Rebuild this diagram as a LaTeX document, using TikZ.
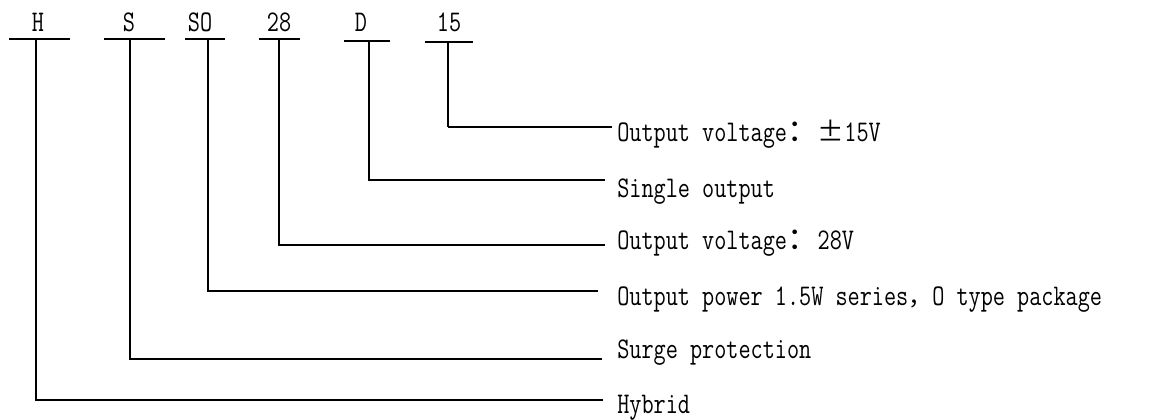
\documentclass[tikz,border=0pt]{standalone}
\usepackage{fontspec}
\setmonofont{Latin Modern Mono}[FakeStretch=0.785]
\newfontfamily\cjk{Noto Sans CJK SC}
\tikzset{
  code/.style={anchor=base, inner sep=0pt, font=\ttfamily\fontsize{22.5pt}{26pt}\selectfont},
  desc/.style={anchor=base west, inner sep=0pt, font=\ttfamily\fontsize{22.5pt}{26pt}\selectfont},
  thinline/.style={line width=1.1pt},
  thickline/.style={line width=2.2pt}
}
\newcommand{\wide}[2]{{\cjk\fontsize{#1}{20pt}\selectfont #2}}
\begin{document}
\begin{tikzpicture}[x=0.75pt, y=-0.75pt]
        \useasboundingbox (0,0) rectangle (1167,419);
        % code letters
        \node[code] (codeH) at (38,31) {H};
        \node[code] (codeS) at (129,31) {S};
        \node[code] (codeSO) at (200,31) {SO};
        \node[code] (code28) at (279,31) {28};
        \node[code] (codeD) at (361,31) {D};
        \node[code] (code15) at (449,31) {15};
        % meanings
        \node[desc] (desc15) at (617,141) {Output voltage\wide{23pt}{：}\wide{20pt}{±}15V};
        \node[desc] (descD) at (617,197) {Single output};
        \node[desc] (desc28) at (617,249) {Output voltage\wide{23pt}{：}28V};
        \node[desc] (descSO) at (617,305) {Output power 1.5W series\wide{18pt}{，}O type package};
        \node[desc] (descS) at (617,358) {Surge protection};
        \node[desc] (descH) at (617,413) {Hybrid};
        % bars under the letters
        \draw[thinline] (9,39) -- (70,39);
        \draw[thinline] (104,39) -- (165,39);
        \draw[thickline] (185,39) -- (225,39);
        \draw[thinline] (259,39) -- (300,39);
        \draw[thickline] (344,41) -- (390,41);
        \draw[thickline] (425,42) -- (473,42);
        % lead tops and ends
        \coordinate (topH) at (36,39);   \coordinate (endH) at (603,400);
        \coordinate (topS) at (130,39);  \coordinate (endS) at (602,359);
        \coordinate (topSO) at (208,39); \coordinate (endSO) at (598,291);
        \coordinate (top28) at (279,39); \coordinate (end28) at (605,245);
        \coordinate (topD) at (369,41);  \coordinate (endD) at (605,180);
        \coordinate (top15) at (448,42); \coordinate (corner15) at (448,127);
        \coordinate (end15) at (612,127);
        % leads
        \draw[thinline] (topH) |- (endH);
        \draw[thinline] (topS) |- (endS);
        \draw[thickline] (topSO) |- (endSO);
        \draw[thinline] (top28) |- (end28);
        \draw[thinline] (topD) |- (endD);
        \draw[thinline] (top15) -- (corner15);
        \draw[thickline] (corner15) -- (end15);
\end{tikzpicture}
\end{document}
